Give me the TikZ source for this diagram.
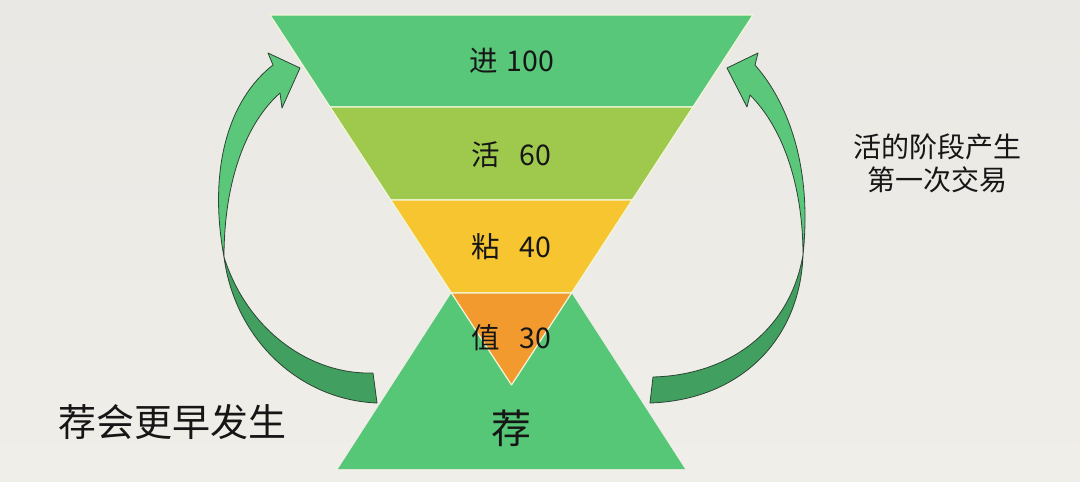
\documentclass[tikz,border=0pt]{standalone}
\usepackage{fontspec}
\setmainfont{Noto Sans CJK SC}
\usetikzlibrary{calc}
\definecolor{bgtop}{HTML}{EAE8E4}
\definecolor{bgmid}{HTML}{E3E1DD}
\definecolor{bgbot}{HTML}{F0EEE8}
\definecolor{band1}{HTML}{58C77A}
\definecolor{band2}{HTML}{9EC94C}
\definecolor{band3}{HTML}{F6C52F}
\definecolor{band4}{HTML}{F29A2E}
\definecolor{tri}{HTML}{56C677}
\definecolor{sep}{HTML}{F2F6DA}
\definecolor{arrlight}{HTML}{5BC77A}
\definecolor{arrdark}{HTML}{41A060}
\definecolor{arrline}{HTML}{2C4434}
\definecolor{txt}{HTML}{161616}
\tikzset{
  bandstyle/.style={draw=sep, line width=1.2pt, line join=round},
  lab/.style={text=txt, font=\fontsize{28.5}{32}\selectfont, inner sep=0pt, anchor=center},
  biglab/.style={text=txt, font=\fontsize{40}{44}\selectfont, inner sep=0pt, anchor=center},
  sidelab/.style={text=txt, font=\fontsize{38}{40}\selectfont, inner sep=0pt, anchor=center},
  notelab/.style={text=txt, font=\fontsize{28}{33}\selectfont, inner sep=0pt, anchor=center, align=center},
  arrfront/.style={fill=arrlight, draw=arrline, line width=0.8pt, line join=round},
  arrback/.style={fill=arrdark, draw=arrline, line width=0.8pt, line join=round}
}
\begin{document}
\begin{tikzpicture}[x=1pt,y=-1pt]
\shade[top color=bgtop, middle color=bgmid, bottom color=bgbot] (0,0) rectangle (1080,482);
\useasboundingbox (0,0) rectangle (1080,482);

% bottom triangle
\coordinate (bl) at (338,469);
\coordinate (br) at (685,469);
\coordinate (bt) at (511.5,200);
\fill[tri] (bl) -- (br) -- (bt) -- cycle;

% funnel coordinates
\coordinate (l0) at (270,15);      \coordinate (r0) at (753,15);
\coordinate (l1) at (330.05,107);  \coordinate (r1) at (692.95,107);
\coordinate (l2) at (390.75,200);  \coordinate (r2) at (632.25,200);
\coordinate (l3) at (451.45,293);  \coordinate (r3) at (571.55,293);
\coordinate (ap) at (511.5,385);

\filldraw[bandstyle, fill=band1] (l0) -- (r0) -- (r1) -- (l1) -- cycle;
\filldraw[bandstyle, fill=band2] (l1) -- (r1) -- (r2) -- (l2) -- cycle;
\filldraw[bandstyle, fill=band3] (l2) -- (r2) -- (r3) -- (l3) -- cycle;
\filldraw[bandstyle, fill=band4] (l3) -- (r3) -- (ap) -- cycle;

% left curved arrow
\coordinate (lf) at (224,257);
\coordinate (lt1) at (377,403);
\coordinate (lt2) at (373,373);
\coordinate (lso) at (273,65);
\coordinate (lsi) at (280,93);
\coordinate (lb1) at (268,53);
\coordinate (ltip) at (300,68);
\coordinate (lb2) at (282,108);
\path[arrback] (lf) .. controls (235,340) and (300,400) .. (lt1) -- (lt2)
   .. controls (310,375) and (247,330) .. (lf) -- cycle;
\path[arrfront] (lf) .. controls (208,170) and (228,100) .. (lso) -- (lb1) -- (ltip) -- (lb2) -- (lsi)
   .. controls (244,125) and (224,185) .. (lf) -- cycle;

% right curved arrow
\coordinate (rf) at (803,255);
\coordinate (rt1) at (650,403);
\coordinate (rt2) at (653,377);
\coordinate (rso) at (755,65);
\coordinate (rsi) at (750,95);
\coordinate (rb1) at (758,53);
\coordinate (rtip) at (727,68);
\coordinate (rb2) at (747,107);
\path[arrback] (rf) .. controls (800,340) and (740,400) .. (rt1) -- (rt2)
   .. controls (730,375) and (790,330) .. (rf) -- cycle;
\path[arrfront] (rf) .. controls (812,170) and (790,105) .. (rso) -- (rb1) -- (rtip) -- (rb2) -- (rsi)
   .. controls (785,130) and (803,190) .. (rf) -- cycle;

% labels
\node[lab] (t1) at (511.5,61) {进\hspace{9pt}100};
\node[lab] (t2) at (511.5,155) {活\hspace{19pt}60};
\node[lab] (t3) at (511.5,247) {粘\hspace{19pt}40};
\node[lab] (t4) at (511.5,338) {值\hspace{19pt}30};
\node[biglab] (t5) at (511.5,428) {荐};
\node[sidelab] (left) at (172.5,422) {荐会更早发生};
\node[notelab] (right) at (937,163) {活的阶段产生\\第一次交易};
\end{tikzpicture}
\end{document}
